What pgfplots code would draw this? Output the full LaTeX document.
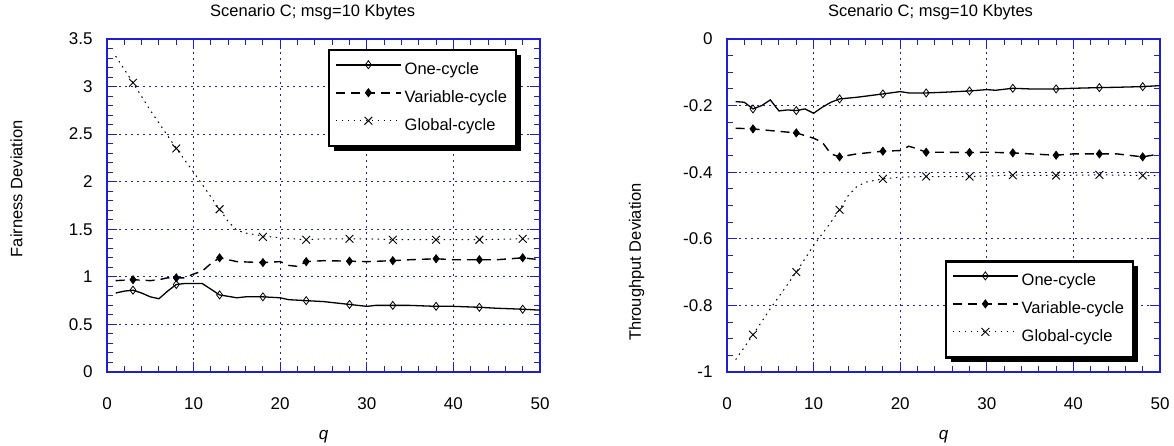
\documentclass[border=0pt]{standalone}
\usepackage{fontspec}
\setmainfont{Liberation Sans}
\usepackage{pgfplots}
\pgfplotsset{compat=1.18}
\usetikzlibrary{shadows}
\definecolor{ablue}{RGB}{30,30,215}
\makeatletter
\tikzset{nopre/.code={\let\tikz@preactions\pgfutil@empty}}
\makeatother

\pgfplotsset{
 myaxis/.style={
  scale only axis, width=433pt, height=333pt,
  xmin=0, xmax=50, xtick={0,10,...,50}, minor x tick num=4,
  axis line style={ablue, line width=1.3pt},
  every tick/.style={ablue, line width=1pt},
  tick align=inside, major tick length=10pt, minor tick length=6pt,
  grid=major, major grid style={ablue, line width=0.9pt, dash pattern=on 2pt off 4pt},
  tick label style={font=\fontsize{17}{20}\selectfont},
  /pgf/number format/assume math mode=true,
  xticklabel style={yshift=-22pt},
  yticklabel style={xshift=-11pt},
  title style={anchor=base},
  xlabel style={at={([yshift=-65pt]axis description cs:0.5,0)}, anchor=center},
  legend cell align=left,
  legend image code/.code={\draw[nopre, mark repeat=2,mark phase=2] plot coordinates {(0pt,5.5pt) (32.5pt,5.5pt) (65pt,5.5pt)};},
  legend style={draw=black, line width=2.5pt, fill=white,
    drop shadow={shadow xshift=4.5pt, shadow yshift=-4.5pt, fill=black, opacity=1},
    font=\fontsize{16.5}{19}\selectfont, inner xsep=6pt, inner ysep=6pt,
    nodes={inner xsep=3pt, inner ysep=6pt, text height=12pt, text depth=4pt}},
 },
 onestyle/.style={black, solid, line width=1.3pt},
 onemark/.style={black, only marks, mark=diamond, mark size=4pt, mark options={solid, fill=white, line width=0.8pt}},
 varstyle/.style={black, line width=1.4pt, dash pattern=on 9pt off 6pt},
 varmark/.style={black, only marks, mark=diamond*, mark size=4pt, mark options={solid, fill=black, line width=0.8pt}},
 globstyle/.style={black, line width=1pt, dash pattern=on 1.5pt off 4.5pt},
 globmark/.style={black, only marks, mark=x, mark size=5.5pt, mark options={solid, line width=0.9pt}},
}

\begin{document}
\begin{tikzpicture}
\path[use as bounding box] (0,0) rectangle (1174pt,446pt);

\begin{axis}[myaxis, at={(107pt,74pt)}, anchor=south west,
  ymin=0, ymax=3.5, ytick={0,0.5,...,3.5}, minor y tick num=4,
  yticklabels={0,0.5,1,1.5,2,2.5,3,3.5},
  title={\fontsize{16.5}{19}\selectfont Scenario C; msg=10 Kbytes},
  title style={at={([yshift=16pt]axis description cs:0.475,1)}},
  xlabel={\fontsize{17}{19}\selectfont\itshape q},
  ylabel={\fontsize{16.5}{19}\selectfont Fairness Deviation},
  ylabel style={at={([xshift=-90.5pt]axis description cs:0,0.55)}, anchor=center},
  legend style={at={(0.51,0.97)}, anchor=north west}]
\addlegendimage{onestyle, line width=1.6pt, mark=diamond, mark size=4pt, mark options={solid, fill=white, line width=0.8pt}}
\addlegendentry{One-cycle}
\addlegendimage{varstyle, line width=1.6pt, mark=diamond*, mark size=4pt, mark options={solid, fill=black, line width=0.8pt}}
\addlegendentry{Variable-cycle}
\addlegendimage{globstyle, mark=x, mark size=5.5pt, mark options={solid, line width=0.9pt}}
\addlegendentry{Global-cycle}
% One-cycle
\addplot[onestyle, forget plot] coordinates {(1,0.83)(2,0.85)(3,0.86)(4,0.83)(5,0.79)(6,0.77)(7,0.85)(8,0.92)(9,0.93)(10,0.93)(11,0.93)(12,0.87)(13,0.81)(15,0.78)(16,0.79)(17,0.79)(18,0.79)(20,0.78)(21,0.76)(23,0.75)(25,0.74)(27,0.72)(28,0.71)(30,0.69)(31,0.70)(33,0.70)(35,0.70)(38,0.69)(40,0.69)(43,0.68)(45,0.67)(48,0.66)(50,0.65)};
\addplot[onemark, forget plot] coordinates {(3,0.86)(8,0.92)(13,0.81)(18,0.79)(23,0.75)(28,0.71)(33,0.70)(38,0.69)(43,0.68)(48,0.66)};
% Variable-cycle
\addplot[varstyle, forget plot] coordinates {(1,0.96)(3,0.97)(5,0.96)(6,0.97)(7,0.99)(8,0.99)(9,0.99)(10,1.03)(11,1.06)(12,1.14)(13,1.20)(15,1.16)(18,1.15)(20,1.16)(21,1.12)(22,1.11)(23,1.16)(25,1.17)(28,1.165)(30,1.16)(33,1.17)(35,1.18)(38,1.19)(40,1.18)(43,1.18)(45,1.18)(48,1.20)(50,1.18)};
\addplot[varmark, forget plot] coordinates {(3,0.97)(8,0.99)(13,1.20)(18,1.15)(23,1.16)(28,1.165)(33,1.17)(38,1.19)(43,1.18)(48,1.20)};
% Global-cycle
\addplot[globstyle, forget plot] coordinates {(1,3.32)(3,3.04)(5,2.75)(8,2.35)(10,2.10)(13,1.71)(14,1.58)(15,1.49)(16,1.46)(18,1.43)(20,1.41)(23,1.39)(25,1.40)(28,1.40)(30,1.40)(33,1.39)(38,1.39)(43,1.39)(48,1.40)(50,1.40)};
\addplot[globmark, forget plot] coordinates {(3,3.04)(8,2.35)(13,1.71)(18,1.42)(23,1.39)(28,1.40)(33,1.39)(38,1.39)(43,1.39)(48,1.40)};
\end{axis}

\begin{axis}[myaxis, at={(727pt,74pt)}, anchor=south west,
  ymin=-1, ymax=0, ytick={-1,-0.8,...,0}, minor y tick num=3,
  yticklabels={-1,-0.8,-0.6,-0.4,-0.2,0},
  title={\fontsize{16.5}{19}\selectfont Scenario C; msg=10 Kbytes},
  title style={at={([yshift=16pt]axis description cs:0.47,1)}},
  xlabel={\fontsize{17}{19}\selectfont\itshape q},
  ylabel={\fontsize{16.5}{19}\selectfont Throughput Deviation},
  ylabel style={at={([xshift=-90.5pt]axis description cs:0,0.33)}, anchor=center},
  legend style={at={(0.503,0.336)}, anchor=north west}]
\addlegendimage{onestyle, line width=1.6pt, mark=diamond, mark size=4pt, mark options={solid, fill=white, line width=0.8pt}}
\addlegendentry{One-cycle}
\addlegendimage{varstyle, line width=1.6pt, mark=diamond*, mark size=4pt, mark options={solid, fill=black, line width=0.8pt}}
\addlegendentry{Variable-cycle}
\addlegendimage{globstyle, mark=x, mark size=5.5pt, mark options={solid, line width=0.9pt}}
\addlegendentry{Global-cycle}
% One-cycle
\addplot[onestyle, forget plot] coordinates {(1,-0.188)(2,-0.19)(3,-0.21)(4,-0.20)(5,-0.183)(6,-0.216)(7,-0.213)(8,-0.215)(9,-0.21)(10,-0.223)(11,-0.205)(12,-0.19)(13,-0.18)(15,-0.175)(18,-0.165)(20,-0.158)(21,-0.162)(23,-0.162)(25,-0.16)(28,-0.156)(30,-0.152)(31,-0.154)(33,-0.148)(35,-0.15)(38,-0.15)(40,-0.148)(43,-0.146)(45,-0.145)(48,-0.143)(50,-0.14)};
\addplot[onemark, forget plot] coordinates {(3,-0.21)(8,-0.215)(13,-0.18)(18,-0.165)(23,-0.162)(28,-0.156)(33,-0.148)(38,-0.15)(43,-0.146)(48,-0.143)};
% Variable-cycle
\addplot[varstyle, forget plot] coordinates {(1,-0.268)(3,-0.27)(5,-0.275)(8,-0.282)(9,-0.29)(10,-0.298)(11,-0.31)(12,-0.345)(13,-0.354)(15,-0.345)(18,-0.337)(20,-0.335)(21,-0.322)(22,-0.33)(23,-0.34)(25,-0.34)(28,-0.341)(30,-0.34)(33,-0.342)(35,-0.345)(38,-0.349)(40,-0.345)(43,-0.345)(45,-0.345)(48,-0.354)(50,-0.345)};
\addplot[varmark, forget plot] coordinates {(3,-0.27)(8,-0.282)(13,-0.354)(18,-0.337)(23,-0.34)(28,-0.341)(33,-0.342)(38,-0.349)(43,-0.345)(48,-0.354)};
% Global-cycle
\addplot[globstyle, forget plot] coordinates {(1,-0.963)(3,-0.888)(5,-0.81)(8,-0.70)(10,-0.62)(12,-0.55)(13,-0.513)(14,-0.47)(15,-0.443)(16,-0.43)(18,-0.42)(20,-0.415)(23,-0.413)(28,-0.413)(33,-0.409)(38,-0.41)(43,-0.408)(48,-0.41)(50,-0.41)};
\addplot[globmark, forget plot] coordinates {(3,-0.888)(8,-0.70)(13,-0.513)(18,-0.42)(23,-0.413)(28,-0.413)(33,-0.409)(38,-0.41)(43,-0.408)(48,-0.41)};
\end{axis}
\end{tikzpicture}
\end{document}
